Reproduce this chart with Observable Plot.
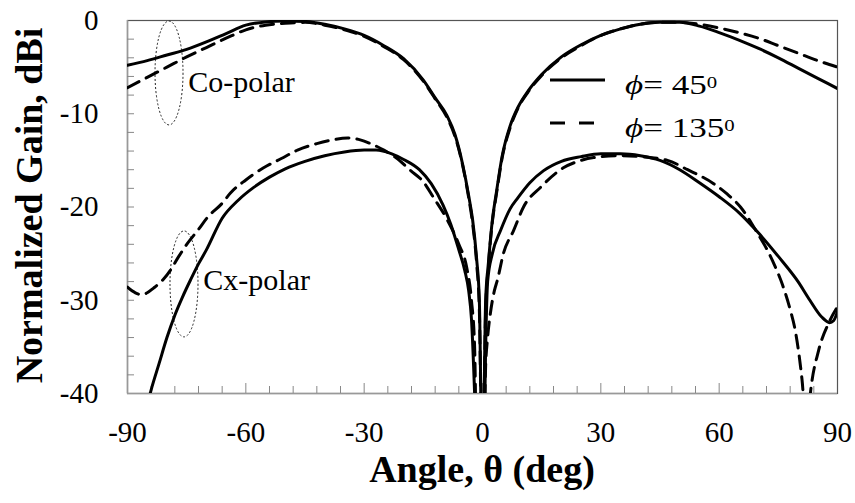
<!DOCTYPE html>
<html><head><meta charset="utf-8">
<script src="https://cdn.jsdelivr.net/npm/d3@7"></script>
<script src="https://cdn.jsdelivr.net/npm/@observablehq/plot@0.6"></script>
<style>
body{margin:0;background:#fff}
</style>
</head><body><div id="chart"></div>
<script>
// ---- data ----
const coTheta = [-90,-85,-80,-75,-70,-65,-60,-55,-50,-45,-40,-35,-30,-25,-20,-15,-12,-9,-7,-5,-3.5,-2.5,-1.5,-0.8,0,0.8,1.5,2.5,3.5,5,7,9,11.5,15,20,25,30,35,40,45,50,55,60,65,70,75,80,85,90];
const coGain45 = [-4.8,-4.3,-3.7,-3.1,-2.3,-1.4,-0.5,-0.15,-0.05,-0.1,-0.4,-0.9,-1.6,-2.7,-4.1,-6.4,-8.3,-10.2,-12.2,-15.5,-18.8,-21.4,-25.5,-30,-50,-30,-26,-21.4,-18.5,-14.5,-11.3,-9.3,-7.6,-5.8,-3.9,-2.6,-1.6,-0.9,-0.4,-0.2,-0.2,-0.6,-1.3,-2.1,-3.0,-4.0,-5.1,-6.2,-7.3];
const coGain135 = [-7.2,-6.1,-5.0,-3.9,-2.9,-1.9,-1.0,-0.5,-0.3,-0.2,-0.5,-1.0,-1.7,-2.8,-4.2,-6.5,-8.4,-10.4,-12.4,-15.6,-19,-21.8,-26,-31,-50,-31,-26.3,-21.6,-18.7,-14.7,-11.5,-9.4,-7.7,-5.9,-4.0,-2.7,-1.6,-0.9,-0.4,-0.2,-0.2,-0.4,-0.8,-1.3,-1.9,-2.7,-3.5,-4.3,-5.0];
const cxTheta45 = [-86,-84,-82,-80,-78,-76,-74,-72,-70,-66,-62,-58,-54,-50,-45,-40,-35,-30,-27,-23,-20,-16,-13,-10,-8,-6,-4.5,-3.5,-2.8,-2,-1.4,0.3,0.8,1.3,2.5,4.6,7,9,12,15.5,20,25,30,35,40,45,50,55,60,65,70,75,80,83,86,88,89,90];
const cxGain45 = [-43,-39.6,-36.8,-34,-31.6,-29.6,-27.8,-26.1,-24.6,-21.2,-19.3,-17.9,-16.8,-15.9,-15.1,-14.5,-14.1,-13.9,-13.9,-14.3,-14.9,-16.0,-17.5,-19.8,-21.9,-24.6,-26.8,-29,-32,-40,-48,-48,-35,-28,-25,-22.5,-20.2,-19,-17.4,-16.1,-15.1,-14.6,-14.3,-14.3,-14.5,-15.0,-16.0,-17.4,-18.9,-20.6,-22.8,-25.3,-28.0,-30.0,-31.8,-32.4,-32.2,-31.2];
const cxTheta135 = [-90,-88,-86.5,-85,-83.4,-81,-79,-77,-74.8,-72,-69.7,-66,-63.9,-60,-55.5,-51,-46.9,-42,-38,-34.2,-31,-28.4,-25,-22,-18.2,-15,-12.4,-8.9,-6,-4,-2.8,-2,-1.5,0.3,0.8,1.3,2,3,3.8,5.3,7.9,10.4,14.7,20.5,25,28.2,35,40,46.9,52,58.6,62,65.4,69.7,71.8,74,76.1,78,79.4,81,82.2,83.2,85.2,87.7,90];
const cxGain135 = [-28.6,-29.2,-29.4,-29.2,-28.7,-27.8,-26.7,-25.3,-23.9,-22.4,-21.1,-19.6,-18.5,-17.1,-15.8,-14.8,-13.9,-13.2,-12.8,-12.6,-12.8,-13.2,-13.9,-14.7,-16.1,-17.3,-19.0,-21.4,-24,-26.5,-30,-35,-45,-45,-37,-34,-31.4,-29,-27.8,-25,-22.5,-20,-17.9,-15.8,-15.0,-14.7,-14.5,-14.6,-15.0,-16.0,-17.5,-18.6,-20.0,-22.8,-24.3,-26.2,-28.4,-31,-33.5,-38.5,-44,-39.7,-35.4,-32.5,-30.7];

const xTickLabels = [-90,-60,-30,0,30,60,90];
const yTickLabels = [0,-10,-20,-30,-40];
const xMinorTicks = [-84,-78,-72,-66,-54,-48,-42,-36,-24,-18,-12,-6,6,12,18,24,36,42,48,54,66,72,78,84];
const xMajorTicks = [-60,-30,0,30,60];
const yMinorTicks = [-2,-4,-6,-8,-10,-12,-14,-16,-18,-20,-22,-24,-26,-28,-30,-32,-34,-36,-38];
const legendPhi = ["45","135"];
const groupLabels = [{text:"Co-polar", theta:-74.5, gain:-7.72}, {text:"Cx-polar", theta:-70.65, gain:-28.94}];
const groupEllipses = [{theta:-79.35, gain:-5.68, dTheta:3.55, dGain:5.57}, {theta:-75.55, gain:-28.3, dTheta:3.55, dGain:5.68}];

const rows = (th, g) => th.map((t, i) => ({theta: t, gain: g[i]}));
const FONT = '"Liberation Serif","Times New Roman",serif';
const W = 855, H = 503, ML = 127, MR = 18, MT = 20, MB = 110;
const PW = W - ML - MR, PH = H - MT - MB;

function ellipsesMark(index, scales) {
  const g = d3.create("svg:g").attr("fill", "none").attr("stroke", "#222").attr("stroke-width", 1).attr("stroke-dasharray", "2,2");
  for (const e of groupEllipses) {
    const cx = scales.x(e.theta), cy = scales.y(e.gain);
    g.append("ellipse").attr("cx", cx).attr("cy", cy)
      .attr("rx", Math.abs(scales.x(e.theta + e.dTheta) - cx))
      .attr("ry", Math.abs(scales.y(e.gain + e.dGain) - cy));
  }
  return g.node();
}

function decorationsMark(index, scales) {
  const g = d3.create("svg:g").attr("font-family", FONT).attr("fill", "#000").attr("text-anchor", "start");
  for (const l of groupLabels) {
    g.append("text").attr("x", scales.x(l.theta)).attr("y", scales.y(l.gain)).attr("font-size", 30).text(l.text);
  }
  // legend
  const lx = ML + 423, ly = [MT + 60, MT + 103];
  g.append("line").attr("x1", lx).attr("x2", lx + 55).attr("y1", ly[0]).attr("y2", ly[0]).attr("stroke", "#000").attr("stroke-width", 3);
  g.append("line").attr("x1", lx).attr("x2", lx + 44).attr("y1", ly[1]).attr("y2", ly[1]).attr("stroke", "#000").attr("stroke-width", 3).attr("stroke-dasharray", "15,14");
  legendPhi.forEach((p, i) => {
    const t = g.append("text").attr("transform", `translate(${lx + 75},${ly[i] + 14}) scale(1.3,1)`).attr("font-size", 27);
    t.append("tspan").attr("font-style", "italic").text("ϕ");
    t.append("tspan").text("= " + p);
    t.append("tspan").attr("dy", -6).attr("font-size", 16).text("0");
  });
  // axis titles
  g.append("text").attr("transform", `translate(42,${MT + PH / 2 - 1}) rotate(-90)`).attr("text-anchor", "middle")
    .attr("font-size", 38).attr("font-weight", "bold").text("Normalized Gain, dBi");
  g.append("text").attr("x", ML + PW / 2).attr("y", 482).attr("text-anchor", "middle")
    .attr("font-size", 38).attr("font-weight", "bold").text("Angle, θ (deg)");
  return g.node();
}

const lineOpts = {x: "theta", y: "gain", stroke: "#000", strokeWidth: 3, curve: "monotone-x", clip: true};

const chart = Plot.plot({
  width: W, height: H,
  marginLeft: ML, marginRight: MR, marginTop: MT, marginBottom: MB,
  style: {fontFamily: FONT, fontSize: "29px", background: "#fff", color: "#000", overflow: "visible"},
  x: {domain: [-90, 90]},
  y: {domain: [-40, 0]},
  marks: [
    Plot.frame({stroke: "#555", strokeWidth: 1.2}),
    Plot.ruleX([-90], {stroke: "#999", strokeWidth: 1.5}),
    Plot.ruleY([-40], {stroke: "#999", strokeWidth: 1.5}),
    Plot.tickX(xMinorTicks, {x: d => d, insetTop: PH - 7, stroke: "#888"}),
    Plot.tickX(xMajorTicks, {x: d => d, insetTop: PH - 10, stroke: "#888"}),
    Plot.tickY(yMinorTicks, {y: d => d, insetRight: PW - 7, stroke: "#888"}),
    Plot.axisX({ticks: xTickLabels, tickSize: 0, tickPadding: 28, fontSize: 29, fontFamily: FONT, tickFormat: d => String(d), label: null}),
    Plot.axisY({ticks: yTickLabels, tickSize: 0, tickPadding: 29, fontSize: 29, fontFamily: FONT, tickFormat: d => String(d), label: null}),
    ellipsesMark,
    Plot.line(rows(coTheta, coGain45), lineOpts),
    Plot.line(rows(coTheta, coGain135), {...lineOpts, strokeDasharray: "13,8"}),
    Plot.line(rows(cxTheta45, cxGain45), lineOpts),
    Plot.line(rows(cxTheta135, cxGain135), {...lineOpts, strokeDasharray: "13,8"}),
    decorationsMark
  ]
});
document.getElementById("chart").append(chart);
</script>
</body></html>
